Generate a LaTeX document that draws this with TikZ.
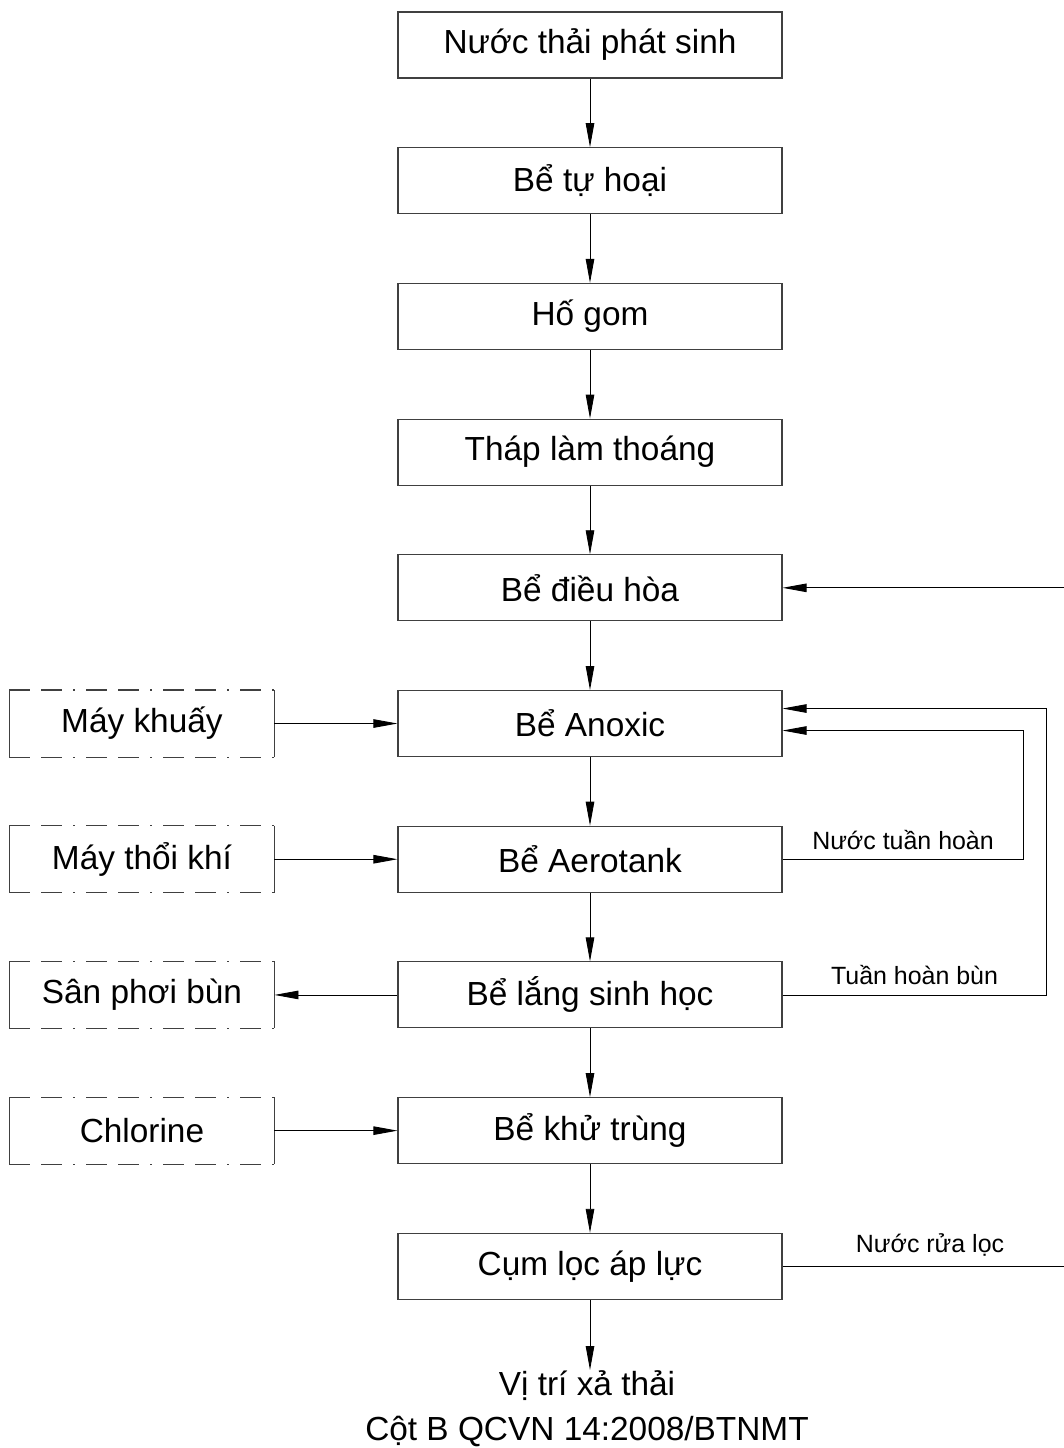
\documentclass[tikz,border=0pt]{standalone}
\usepackage{fontspec}
\setmainfont{Liberation Sans}
\usetikzlibrary{positioning}
\usetikzlibrary{arrows.meta}

\tikzset{
  process/.style={draw=black!75, line width=0.6pt, minimum width=7.68cm, minimum height=1.32cm,
    inner sep=0pt, font=\fontsize{19}{26}\selectfont},
  device/.style={process, draw=none, minimum width=5.28cm},
  edge/.style={draw=black!75, line width=0.6pt},
  dashdot/.style={edge, dash pattern=on 0.42cm off 0.22cm on 0.42cm off 0.22cm on 0.04cm off 0.22cm},
  flow/.style={-{Triangle[length=0.48cm,width=0.17cm]}, line width=0.5pt},
  note/.style={font=\fontsize{14.2}{16}\selectfont},
}

\begin{document}
\begin{tikzpicture}
    \useasboundingbox (0,0) rectangle (21.28,-28.96);
    % main line
    \node[process] (nuocthai) at (11.8,-0.9) {Nước thải phát sinh};
    \node[process, below=1.373cm of nuocthai] (tuhoai) {Bể tự hoại};
    \node[process, below=1.373cm of tuhoai] (hogom) {Hố gom};
    \node[process, below=1.373cm of hogom] (thap) {Tháp làm thoáng};
    \node[process, below=1.373cm of thap] (dieuhoa) {Bể điều hòa};
    \node[process, below=1.373cm of dieuhoa] (anoxic) {Bể Anoxic};
    \node[process, below=1.373cm of anoxic] (aerotank) {Bể Aerotank};
    \node[process, below=1.373cm of aerotank] (langsh) {Bể lắng sinh học};
    \node[process, below=1.373cm of langsh] (khutrung) {Bể khử trùng};
    \node[process, below=1.373cm of khutrung] (cumloc) {Cụm lọc áp lực};
    \node[font=\fontsize{19}{26}\selectfont, align=center, inner sep=0pt, anchor=north]
      (xathai) at (11.74,-27.4) {Vị trí xả thải\\Cột B QCVN 14:2008/BTNMT};

    % side equipment
    \node[device, left=2.46cm of anoxic] (maykhuay) {Máy khuấy};
    \node[device, left=2.46cm of aerotank] (maythoi) {Máy thổi khí};
    \node[device, left=2.46cm of langsh] (sanphoi) {Sân phơi bùn};
    \node[device, left=2.46cm of khutrung] (chlorine) {Chlorine};
    \foreach \n in {maykhuay, maythoi, sanphoi, chlorine} {
      \draw[edge] (\n.north west) -- (\n.south west) (\n.north east) -- (\n.south east);
      \draw[dashdot] (\n.north west) -- (\n.north east) (\n.south west) -- (\n.south east);
    }

    \foreach \a/\b in {nuocthai/tuhoai, tuhoai/hogom, hogom/thap, thap/dieuhoa,
                       dieuhoa/anoxic, anoxic/aerotank, aerotank/langsh,
                       langsh/khutrung, khutrung/cumloc}
      \draw[flow] (\a) -- (\b);
    \draw[flow] (cumloc.south) -- (cumloc.south |- xathai.north);

    \draw[flow] (maykhuay) -- (anoxic);
    \draw[flow] (maythoi) -- (aerotank);
    \draw[flow] (langsh) -- (sanphoi);
    \draw[flow] (chlorine) -- (khutrung);

    % recirculation
    \draw[flow] (aerotank.east) -- node[note, above=2pt] {Nước tuần hoàn} ++(4.82,0)
      |- ([yshift=-0.14cm]anoxic.east);
    \draw[flow] (langsh.east) -- node[note, above=2pt] {Tuần hoàn bùn} ++(5.28,0)
      |- ([yshift=0.3cm]anoxic.east);
    \draw[flow] (cumloc.east) -- node[note, above=2pt] {Nước rửa lọc} ++(5.9,0)
      |- (dieuhoa.east);
\end{tikzpicture}
\end{document}
